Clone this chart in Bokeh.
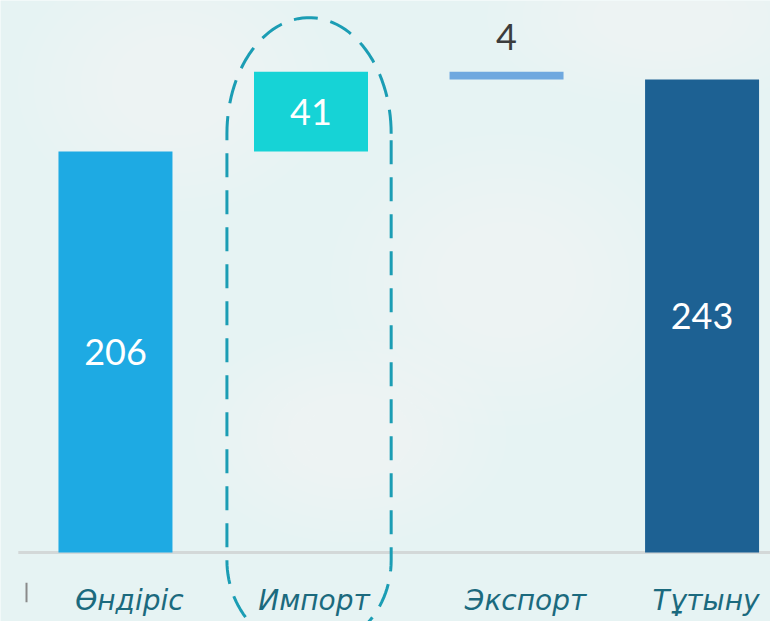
import numpy as np
from bokeh.plotting import figure
from bokeh.models import Range1d, ColumnDataSource
from bokeh.core.properties import value
from bokeh.embed import file_html
from bokeh.resources import INLINE

# ---- data ----
categories = ["Өндіріс", "Импорт", "Экспорт", "Тұтыну"]
values = [206, 41, 4, 243]
kinds = ["total", "up", "down", "total"]
bar_colors = ["#1eaae3", "#16d3d6", "#6fa8df", "#1d6193"]

# waterfall bottoms / tops
bottoms, tops = [], []
running = 0
for v, k in zip(values, kinds):
    if k == "total":
        b, t = 0, v
        running = v
    elif k == "up":
        b, t = running, running + v
        running += v
    else:
        b, t = running - v, running
        running -= v
    bottoms.append(b)
    tops.append(t)

xs = list(range(len(categories)))
src = ColumnDataSource(dict(x=xs, bottom=bottoms, top=tops, color=bar_colors))

BG = "#e6f3f3"
p = figure(width=770, height=621, output_backend="svg", toolbar_location=None,
           x_range=Range1d(-0.588, 3.350), y_range=Range1d(-35.4, 283.6),
           min_border=0, background_fill_color=BG, border_fill_color=BG,
           outline_line_color=None)
p.axis.visible = False
p.grid.visible = False

# soft background blotches (stacked, very transparent)
for s in np.linspace(1.0, 0.3, 8):
    p.ellipse(x=[0.3, 2.8, 2.0, 1.2], y=[240, 275, 140, 60],
              width=[1.6 * s, 1.8 * s, 1.8 * s, 1.6 * s],
              height=[130 * s, 90 * s, 150 * s, 110 * s],
              fill_color="white", fill_alpha=0.05, line_color=None)

# axis baseline
p.segment(x0=[-0.497], y0=[0], x1=[3.4], y1=[0], line_color="#d3d8d8", line_width=3)
p.segment(x0=[-0.455], y0=[-15.5], x1=[-0.455], y1=[-25.5], line_color="#8a8a8a", line_width=2)

# bars
p.vbar(x="x", bottom="bottom", top="top", width=0.583, fill_color="color",
       line_color=None, source=src)

# labels inside bars
inside = ColumnDataSource(dict(
    x=[xs[i] for i in range(4) if kinds[i] != "down"],
    y=[(bottoms[i] + tops[i]) / 2 for i in range(4) if kinds[i] != "down"],
    t=[str(values[i]) for i in range(4) if kinds[i] != "down"],
))
p.text(x="x", y="y", text="t", source=inside, text_color="white",
       text_font=value("Lato"), text_font_size="36px",
       text_align="center", text_baseline="middle")
# export label above line
outside = ColumnDataSource(dict(
    x=[xs[i] for i in range(4) if kinds[i] == "down"],
    y=[tops[i] for i in range(4) if kinds[i] == "down"],
    t=[str(values[i]) for i in range(4) if kinds[i] == "down"],
))
p.text(x="x", y="y", text="t", source=outside, text_color="#3c3c3c",
       text_font=value("Lato"), text_font_size="36px",
       text_align="center", text_baseline="middle", y_offset=-35)

# category labels
lab = ColumnDataSource(dict(x=xs, y=[-24.7] * 4, t=categories, dx=[14, 3, 19, 4]))
p.text(x="x", y="y", text="t", x_offset="dx", source=lab, text_color="#1b6a7e",
       text_font=value("DejaVu Sans"), text_font_style="italic", text_font_size="28px",
       text_align="center", text_baseline="middle")

# dashed highlight around the import column (stadium shape)
cx = xs[1] - 0.01
rx = 0.42
top_c, top_r = 215.2, 59.6
bot_c, bot_r = -4.0, 46.0
th = np.linspace(0, np.pi, 60)
top_x = cx + rx * np.cos(th)
top_y = top_c + top_r * np.sin(th)
bot_x = cx - rx * np.cos(th)
bot_y = bot_c - bot_r * np.sin(th)
path_x = np.concatenate([top_x, bot_x, [top_x[0]]])
path_y = np.concatenate([top_y, bot_y, [top_y[0]]])
p.line(path_x, path_y, line_color="#1b9db4", line_width=3, line_dash="24 13")

open("out.html", "w").write(file_html(p, INLINE))
